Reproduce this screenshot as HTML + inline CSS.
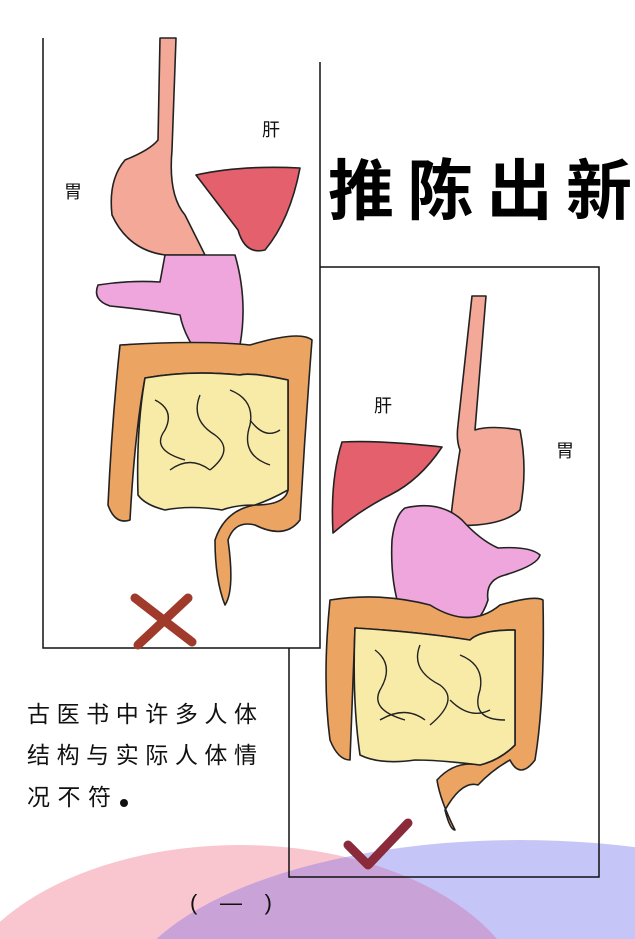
<!DOCTYPE html>
<html><head><meta charset="utf-8"><style>
html,body{margin:0;padding:0;background:#fff;width:635px;height:939px;overflow:hidden;}
svg{display:block;}
text{font-family:"Liberation Sans","WenQuanYi Zen Hei","Noto Sans CJK SC",sans-serif;}
</style></head><body>
<svg width="635" height="939" viewBox="0 0 635 939" xmlns="http://www.w3.org/2000/svg">
<defs>
<clipPath id="frame"><rect x="0" y="0" width="635" height="939"/></clipPath>
<clipPath id="cb"><ellipse cx="520" cy="1010" rx="400" ry="170"/></clipPath>
</defs>
<g clip-path="url(#frame)">
<ellipse cx="240" cy="1020" rx="290" ry="175" fill="#f9c6cf"/>
<ellipse cx="520" cy="1010" rx="400" ry="170" fill="#c5c6f7"/>
<g clip-path="url(#cb)"><ellipse cx="240" cy="1020" rx="290" ry="175" fill="#c9a3d8"/></g>
</g>

<path d="M320 267 H599 V877 H289 V648" fill="none" stroke="#111" stroke-width="1.5"/>
<path d="M43 38 V648 H320 V62" fill="none" stroke="#111" stroke-width="1.5"/>

<text x="328" y="214" font-size="66" font-weight="bold" fill="#000" textLength="304" lengthAdjust="spacing">推陈出新</text>

<g stroke="#222" stroke-width="1.6" stroke-linejoin="round">
<path d="M160 38 L176 38 L172 150 Q168 195 185 215 L205 255 L165 255 Q128 250 112 215 Q108 180 125 160 Q150 150 158 140 Z" fill="#f4a898"/>
<path d="M196 175 Q240 165 300 168 Q290 220 265 250 Q245 255 238 230 Q215 200 196 175 Z" fill="#e3606c"/>
<path d="M165 255 L235 255 Q248 300 240 345 Q230 365 205 362 Q185 340 180 315 Q150 310 110 306 Q92 300 98 285 Q130 280 160 282 Z" fill="#eea6dd"/>
<path d="M120 345 Q200 340 250 345 Q300 330 312 340 Q305 430 300 520 Q285 540 255 525 Q235 520 228 540 Q235 590 225 605 Q215 580 215 540 Q225 510 255 505 Q285 505 288 490 L288 380 Q250 372 240 375 Q190 370 145 378 Q135 430 130 520 Q115 525 108 505 Q112 420 120 345 Z" fill="#eca463"/>
<path d="M145 378 Q190 370 240 375 Q250 372 288 380 L288 490 Q270 500 255 505 Q235 505 222 510 Q190 505 165 510 Q145 505 138 495 Q136 430 145 378 Z" fill="#f8eba8"/>
</g>
<path d="M155 400 q20 10 10 30 q-15 20 20 30 M200 395 q-10 25 15 40 q20 15 -5 35 M230 390 q25 10 20 35 q-10 30 20 40 M170 470 q20 -15 40 0 M250 420 q15 20 30 10" fill="none" stroke="#222" stroke-width="1.4"/>
<path d="M135 598 L192 642 M188 598 L138 645" stroke="#a03a2a" stroke-width="9" stroke-linecap="round"/>
<text x="262" y="136" font-size="18" fill="#111">肝</text>
<text x="64" y="198" font-size="18" fill="#111">胃</text>

<g stroke="#222" stroke-width="1.6" stroke-linejoin="round">
<path d="M472 296 L486 296 L475 430 Q490 425 520 430 Q528 470 520 510 Q500 528 450 525 Q455 480 460 450 Q456 440 458 425 Z" fill="#f4a898"/>
<path d="M342 442 Q380 440 442 447 Q420 480 390 495 Q360 510 333 533 Q330 480 342 442 Z" fill="#e3606c"/>
<path d="M405 508 Q440 500 462 520 Q480 540 498 548 Q530 546 540 555 Q538 565 505 575 Q485 580 488 600 Q480 625 460 630 Q420 625 400 610 Q390 580 392 540 Q395 515 405 508 Z" fill="#eea6dd"/>
<path d="M330 600 Q380 592 430 605 Q470 630 500 605 Q535 595 543 600 Q545 700 535 760 Q520 780 510 760 Q492 770 478 785 Q462 780 445 810 Q450 830 455 830 Q440 800 437 780 Q455 760 480 765 Q500 760 515 745 L515 630 Q480 630 470 640 Q420 632 355 628 Q352 700 350 760 Q338 760 330 740 Q322 680 330 600 Z" fill="#eca463"/>
<path d="M355 628 Q420 632 470 640 Q480 630 515 630 L515 745 Q500 760 480 765 Q440 760 415 760 Q380 765 360 755 Q352 700 355 628 Z" fill="#f8eba8"/>
</g>
<path d="M375 650 q20 15 5 40 q-10 20 25 30 M420 645 q-10 25 20 40 q20 15 -10 40 M460 655 q25 10 20 35 q-10 30 25 30 M380 720 q25 -15 45 0 M450 700 q20 20 40 10" fill="none" stroke="#222" stroke-width="1.4"/>
<path d="M348 845 L368 865 L408 823" fill="none" stroke="#8a2a3a" stroke-width="9" stroke-linecap="round" stroke-linejoin="round"/>
<text x="374" y="412" font-size="18" fill="#111">肝</text>
<text x="556" y="457" font-size="18" fill="#111">胃</text>

<text x="27" y="722" font-size="23" fill="#111" textLength="230" lengthAdjust="spacing">古医书中许多人体</text>
<text x="27" y="763" font-size="23" fill="#111" textLength="230" lengthAdjust="spacing">结构与实际人体情</text>
<text x="27" y="805" font-size="23" fill="#111" textLength="84" lengthAdjust="spacing">况不符</text>
<circle cx="124" cy="803" r="4" fill="#111"/>
<text x="190" y="910" font-size="22" fill="#111" textLength="82" lengthAdjust="spacing">( — )</text>
</svg>
</body></html>
